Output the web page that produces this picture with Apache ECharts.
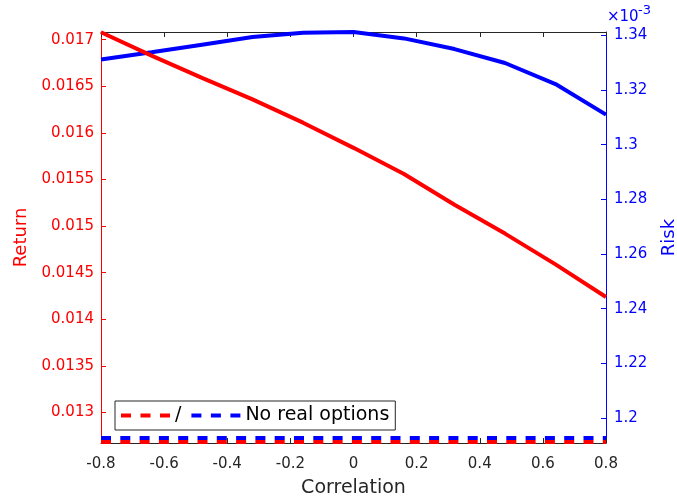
<!DOCTYPE html>
<html>
<head>
<meta charset="utf-8">
<script src="https://cdn.jsdelivr.net/npm/echarts@6/dist/echarts.min.js"></script>
<style>html,body{margin:0;padding:0;background:#fff;}#c{width:677px;height:498px;}</style>
</head>
<body>
<div id="c"></div>
<script>
const correlation = [-0.8, -0.64, -0.48, -0.32, -0.16, 0, 0.16, 0.32, 0.48, 0.64, 0.8];
const returnValues = [0.01708, 0.01683, 0.01659, 0.01636, 0.01611, 0.01584, 0.01556, 0.01523, 0.01492, 0.01459, 0.01424];
const riskValuesE3 = [1.3312, 1.3338, 1.3366, 1.3394, 1.3410, 1.3412, 1.3389, 1.3350, 1.3299, 1.3222, 1.3110];
const returnNoOptions = [0.012685, 0.012685, 0.012685, 0.012685, 0.012685, 0.012685, 0.012685, 0.012685, 0.012685, 0.012685, 0.012685];
const riskNoOptionsE3 = [1.1927, 1.1927, 1.1927, 1.1927, 1.1927, 1.1927, 1.1927, 1.1927, 1.1927, 1.1927, 1.1927];
const xTickLabels = ['-0.8', '-0.6', '-0.4', '-0.2', '0', '0.2', '0.4', '0.6', '0.8'];
const legendNames = ['/', 'No real options'];

const FONT = 'DejaVu Sans';
const RED = '#ff0000';
const BLUE = '#0000ff';
const AX = '#262626';

function pairs(xs, ys) { return xs.map((x, i) => [x, ys[i]]); }

const chart = echarts.init(document.getElementById('c'), null, { renderer: 'canvas' });
const dashIcon = 'path://M0,0h10v4h-10zM19.5,0h10v4h-10zM39,0h10v4h-10z';

chart.setOption({
  animation: false,
  backgroundColor: '#ffffff',
  textStyle: { fontFamily: FONT },
  grid: { left: 101, top: 32, width: 505, height: 411, containLabel: false, outerBoundsMode: 'none' },
  xAxis: [
    {
      type: 'value', min: -0.8, max: 0.8, interval: 0.2,
      name: 'Correlation', nameLocation: 'middle', nameGap: 36,
      nameTextStyle: { fontSize: 19, color: AX, fontFamily: FONT },
      axisLine: { show: true, onZero: false, lineStyle: { color: AX, width: 1 } },
      axisTick: { show: true, inside: true, length: 5, lineStyle: { color: AX } },
      axisLabel: { show: true, margin: 14, fontSize: 15, color: AX, fontFamily: FONT,
        formatter: (v) => { const i = Math.round((v + 0.8) / 0.2); return xTickLabels[i] ?? ''; } },
      splitLine: { show: false }
    },
    {
      type: 'value', position: 'top', min: -0.8, max: 0.8, interval: 0.2,
      axisLine: { show: true, onZero: false, lineStyle: { color: AX, width: 1 } },
      axisTick: { show: true, inside: true, length: 5, lineStyle: { color: AX } },
      axisLabel: { show: false },
      splitLine: { show: false }
    }
  ],
  yAxis: [
    {
      type: 'value', position: 'left', min: 0.012673, max: 0.017083,
      splitNumber: 9, minInterval: 0.0005, maxInterval: 0.0005,
      name: 'Return', nameLocation: 'middle', nameGap: 69,
      nameTextStyle: { fontSize: 18, color: RED, fontFamily: FONT },
      axisLine: { show: true, onZero: false, lineStyle: { color: RED, width: 1 } },
      axisTick: { show: true, inside: true, length: 5, lineStyle: { color: RED } },
      axisLabel: { show: true, margin: 7, fontSize: 15, color: RED, fontFamily: FONT, showMinLabel: false, showMaxLabel: false },
      splitLine: { show: false }
    },
    {
      type: 'value', position: 'right', min: 1.19085, max: 1.34124,
      splitNumber: 8, minInterval: 0.02, maxInterval: 0.02,
      name: 'Risk', nameLocation: 'middle', nameGap: 54,
      nameTextStyle: { fontSize: 18, color: BLUE, fontFamily: FONT },
      axisLine: { show: true, onZero: false, lineStyle: { color: BLUE, width: 1 } },
      axisTick: { show: true, inside: true, length: 5, lineStyle: { color: BLUE } },
      axisLabel: { show: true, margin: 8, fontSize: 15, color: BLUE, fontFamily: FONT, showMinLabel: false, showMaxLabel: false },
      splitLine: { show: false }
    }
  ],
  legend: {
    data: legendNames,
    left: 115, top: 401,
    orient: 'horizontal',
    padding: [5, 6, 5, 6],
    itemGap: 10,
    itemWidth: 49, itemHeight: 4,
    icon: dashIcon,
    itemStyle: { borderWidth: 0 },
    backgroundColor: '#ffffff',
    borderColor: AX, borderWidth: 1, borderRadius: 0,
    textStyle: { fontSize: 19, color: '#000000', fontFamily: FONT },
    selectedMode: false
  },
  graphic: [
    { type: 'text', left: 607, top: 10, style: { text: '×10', fontSize: 15, fill: BLUE, fontFamily: FONT } },
    { type: 'text', left: 638, top: 4, style: { text: '-3', fontSize: 13, fill: BLUE, fontFamily: FONT } }
  ],
  series: [
    {
      name: 'RiskSolid', type: 'line', xAxisIndex: 0, yAxisIndex: 1,
      data: pairs(correlation, riskValuesE3), showSymbol: false, symbol: 'none', clip: true, z: 2,
      lineStyle: { color: BLUE, width: 4 }, itemStyle: { color: BLUE }
    },
    {
      name: 'No real options', type: 'line', xAxisIndex: 0, yAxisIndex: 1,
      data: pairs(correlation, riskNoOptionsE3), showSymbol: false, symbol: 'none', clip: true, z: 3,
      lineStyle: { color: BLUE, width: 4, type: [10, 9.3] }, itemStyle: { color: BLUE }
    },
    {
      name: 'ReturnSolid', type: 'line', xAxisIndex: 0, yAxisIndex: 0,
      data: pairs(correlation, returnValues), showSymbol: false, symbol: 'none', clip: true, z: 4,
      lineStyle: { color: RED, width: 4 }, itemStyle: { color: RED }
    },
    {
      name: '/', type: 'line', xAxisIndex: 0, yAxisIndex: 0,
      data: pairs(correlation, returnNoOptions), showSymbol: false, symbol: 'none', clip: true, z: 5,
      lineStyle: { color: RED, width: 4, type: [10, 9.3] }, itemStyle: { color: RED }
    }
  ]
});
</script>
</body>
</html>
